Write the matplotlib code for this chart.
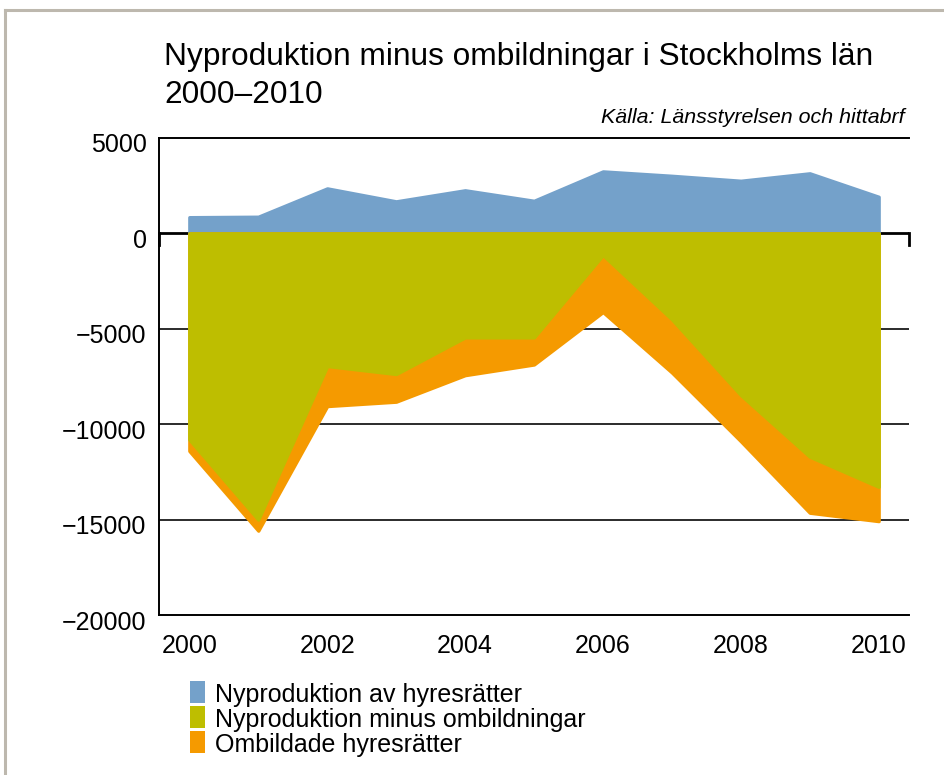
import matplotlib
matplotlib.use("Agg")
import matplotlib.pyplot as plt
import matplotlib.transforms as mtransforms
from matplotlib.patches import Rectangle
from matplotlib.lines import Line2D

plt.rcParams['font.family'] = ['Liberation Sans', 'DejaVu Sans']

# ---- data ----
years = [2000, 2001, 2002, 2003, 2004, 2005, 2006, 2007, 2008, 2009, 2010]
nyproduktion = [850, 875, 2360, 1680, 2260, 1710, 3250, 3020, 2760, 3150, 1920]
netto = [-10800, -15000, -6950, -7370, -5450, -5450, -1130, -4500, -8470, -11700, -13280]
ombildade = [11400, 15580, 9050, 8820, 7430, 6870, 4120, 7290, 10890, 14640, 15080]

series_labels = ["Nyproduktion av hyresrätter",
                 "Nyproduktion minus ombildningar",
                 "Ombildade hyresrätter"]
colors = ["#74a1ca", "#bebe00", "#f59a00"]

yticks = [-20000, -15000, -10000, -5000, 0, 5000]
xticks = [2000, 2002, 2004, 2006, 2008, 2010]

W, H = 945, 775
fig = plt.figure(figsize=(W / 100, H / 100), dpi=100)
ax = fig.add_axes([159 / W, 1 - 615 / H, 750 / W, 477 / H])

ax.set_xlim(1999.56, 2010.44)
ax.set_ylim(-20000, 5000)

# gridlines
for yv in [-15000, -10000, -5000]:
    ax.axhline(yv, color="#1a1a1a", lw=1.3, zorder=1)
ax.axhline(0, color="black", lw=2.0, zorder=1)

neg_omb = [-v for v in ombildade]
stroke = 2.4
for top, col, z in [(nyproduktion, colors[0], 2), (neg_omb, colors[2], 3), (netto, colors[1], 4)]:
    p = ax.fill_between(years, 0, top, facecolor=col, edgecolor=col, lw=stroke, zorder=z)
    p.set_joinstyle("round")

# small end ticks on zero line
blend = mtransforms.blended_transform_factory(ax.transAxes, ax.transData)
for xa in (0, 1):
    ax.add_line(Line2D([xa, xa], [0, -600], transform=blend, color="black",
                       lw=2.0, clip_on=False, zorder=5))

ax.spines["right"].set_visible(False)
for s in ["left", "top", "bottom"]:
    ax.spines[s].set_color("black")
    ax.spines[s].set_linewidth(1.4)

ax.set_yticks(yticks)
ax.set_yticklabels([("\u2212" + str(abs(v))) if v < 0 else str(v) for v in yticks])
ax.set_xticks(xticks)
ax.set_xticklabels([str(v) for v in xticks])
ax.tick_params(axis="y", length=0, pad=9, labelsize=18)
ax.tick_params(axis="x", length=0, pad=14, labelsize=18)
off = mtransforms.ScaledTranslation(0, -5 / 100, fig.dpi_scale_trans)
for lbl in ax.get_yticklabels():
    lbl.set_transform(lbl.get_transform() + off)

# title and source
fig.text(164 / W, 1 - 65 / H, "Nyproduktion minus ombildningar i Stockholms län",
         fontsize=22.8, va="baseline", ha="left")
fig.text(164 / W, 1 - 103 / H, "2000\u20132010", fontsize=22.8, va="baseline", ha="left")
fig.text(905 / W, 1 - 123 / H, "Källa: Länsstyrelsen och hittabrf", fontsize=15.4,
         style="italic", va="baseline", ha="right")

# legend
for i, (lab, col) in enumerate(zip(series_labels, colors)):
    top = 681 + 25 * i
    fig.add_artist(Rectangle((190 / W, 1 - (top + 22) / H), 15 / W, 22 / H,
                             transform=fig.transFigure, color=col, lw=0))
    fig.text(215 / W, 1 - (top + 21) / H, lab, fontsize=18, va="baseline", ha="left")

# figure border (top and left)
bc = "#bdb8ae"
fig.add_artist(Line2D([5 / W, 1], [1 - 10 / H, 1 - 10 / H], transform=fig.transFigure, color=bc, lw=2.2))
fig.add_artist(Line2D([5 / W, 5 / W], [0, 1 - 10 / H], transform=fig.transFigure, color=bc, lw=2.2))

fig.savefig("out.png", dpi=100)
